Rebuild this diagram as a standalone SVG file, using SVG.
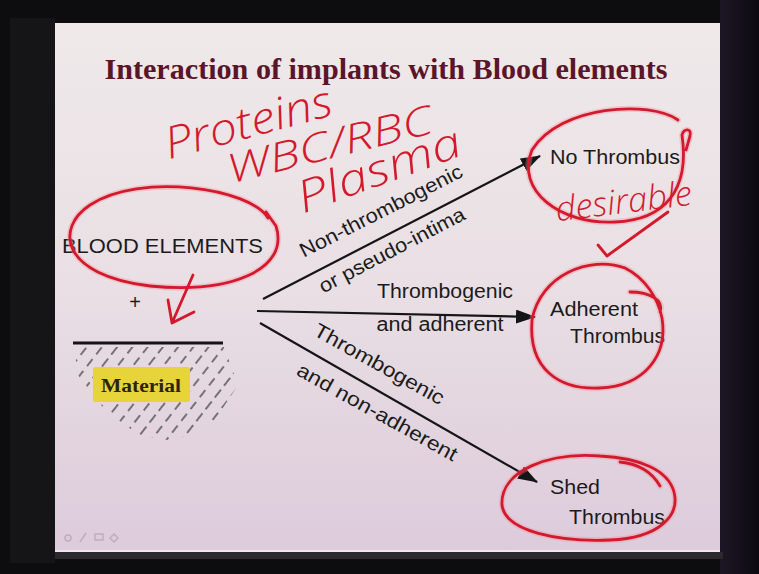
<svg xmlns="http://www.w3.org/2000/svg" width="759" height="574" viewBox="0 0 759 574">
<defs>
<linearGradient id="slideBg" x1="0" y1="0" x2="0" y2="1">
<stop offset="0" stop-color="#efe9ea"/>
<stop offset="0.5" stop-color="#e9dfe4"/>
<stop offset="1" stop-color="#ddcbdb"/>
</linearGradient>
<linearGradient id="frameR" x1="0" y1="0" x2="1" y2="0">
<stop offset="0" stop-color="#1e1626"/>
<stop offset="1" stop-color="#0c0a10"/>
</linearGradient>
<marker id="arrow" viewBox="0 0 20 14" refX="19" refY="7" markerWidth="20" markerHeight="14" markerUnits="userSpaceOnUse" orient="auto">
<path d="M0,0 L20,7 L0,14 Z" fill="#151515"/>
</marker>
<pattern id="hatch" patternUnits="userSpaceOnUse" width="36" height="15" patternTransform="rotate(38)">
<g stroke="#3a3a3a" stroke-width="1.3">
<line x1="6" y1="1" x2="6" y2="10"/>
<line x1="18" y1="6" x2="18" y2="15"/>
<line x1="18" y1="0" x2="18" y2="1"/>
<line x1="30" y1="11" x2="30" y2="15"/>
<line x1="30" y1="0" x2="30" y2="5"/>
</g>
</pattern>
<clipPath id="hatchClip">
<polygon points="74,347 224,347 238,385 215,420 175,441 140,436 105,410 78,375"/>
</clipPath>
<style>
.lbl{font-family:"Liberation Sans",Arial,sans-serif;font-size:20px;fill:#1b1b1b}
.conn{stroke:#151515;stroke-width:2.2;fill:none;marker-end:url(#arrow)}
.red{fill:none;stroke:#d3192b;stroke-width:2.8;stroke-linecap:round;stroke-linejoin:round}
.glow{fill:none;stroke:#f08a9a;stroke-width:6;stroke-opacity:0.35;stroke-linecap:round;stroke-linejoin:round}
.hand{font-family:"Open Sans","Liberation Sans",Arial,sans-serif;font-weight:300;font-style:italic;fill:#d3192b}
</style>
</defs>

<!-- frame and slide -->
<rect x="0" y="0" width="759" height="574" fill="#0d0c0e"/>
<rect x="720" y="0" width="39" height="574" fill="url(#frameR)"/>
<rect x="10" y="18" width="45" height="545" fill="#151416"/>
<rect x="55" y="552" width="668" height="7" fill="#2a2a2e"/>
<rect x="55" y="23" width="665" height="529" fill="url(#slideBg)"/>
<line x1="55" y1="551" x2="720" y2="551" stroke="#f4eef4" stroke-width="1.5"/>

<!-- title -->
<text id="title" x="386" y="79" text-anchor="middle" font-family="'Liberation Serif','Times New Roman',serif" font-weight="bold" font-size="30" fill="#5c1528" textLength="563" lengthAdjust="spacingAndGlyphs">Interaction of implants with Blood elements</text>

<!-- nodes -->
<g id="blood-elements">
<text class="lbl" x="62" y="253" font-size="22" textLength="201" lengthAdjust="spacingAndGlyphs">BLOOD ELEMENTS</text>
<text class="lbl" x="135" y="309" font-size="15" text-anchor="middle">+</text>
</g>

<g id="material">
<rect x="70" y="345" width="175" height="100" fill="url(#hatch)" clip-path="url(#hatchClip)"/>
<line x1="73" y1="343" x2="223" y2="343" stroke="#151515" stroke-width="3"/>
<rect x="93" y="367" width="97" height="35" fill="#e7d43b" rx="2"/>
<text x="141" y="392" text-anchor="middle" font-family="'Liberation Serif','Times New Roman',serif" font-weight="bold" font-size="19" fill="#2a2410" textLength="80" lengthAdjust="spacingAndGlyphs">Material</text>
</g>

<g id="no-thrombus">
<text class="lbl" x="550" y="164" textLength="130" lengthAdjust="spacingAndGlyphs">No Thrombus</text>
</g>

<g id="adherent-thrombus">
<text class="lbl" x="550" y="316" textLength="88" lengthAdjust="spacingAndGlyphs">Adherent</text>
<text class="lbl" x="570" y="343" textLength="95" lengthAdjust="spacingAndGlyphs">Thrombus</text>
</g>

<g id="shed-thrombus">
<text class="lbl" x="550" y="494" textLength="50" lengthAdjust="spacingAndGlyphs">Shed</text>
<text class="lbl" x="569" y="524" textLength="96" lengthAdjust="spacingAndGlyphs">Thrombus</text>
</g>

<!-- connectors -->
<g id="connectors">
<line class="conn" x1="263" y1="299" x2="540" y2="156"/>
<line class="conn" x1="257" y1="311" x2="535" y2="317"/>
<line class="conn" x1="260" y1="323" x2="537" y2="482"/>
<text class="lbl" transform="translate(384,217) rotate(-27)" text-anchor="middle" textLength="180" lengthAdjust="spacingAndGlyphs">Non-thrombogenic</text>
<text class="lbl" transform="translate(395,256) rotate(-27.5)" text-anchor="middle" textLength="162" lengthAdjust="spacingAndGlyphs">or pseudo-intima</text>
<text class="lbl" x="445" y="298" text-anchor="middle" textLength="136" lengthAdjust="spacingAndGlyphs">Thrombogenic</text>
<text class="lbl" x="440" y="331" text-anchor="middle" textLength="127" lengthAdjust="spacingAndGlyphs">and adherent</text>
<text class="lbl" transform="translate(376,370) rotate(29)" text-anchor="middle" textLength="146" lengthAdjust="spacingAndGlyphs">Thrombogenic</text>
<text class="lbl" transform="translate(374,418) rotate(29)" text-anchor="middle" textLength="180" lengthAdjust="spacingAndGlyphs">and non-adherent</text>
</g>

<!-- handwritten annotations -->
<g id="annotations">
<path class="glow" d="M268,218 C250,188 140,172 90,205 C55,228 60,275 150,286 C230,294 290,270 276,226 L266,212"/>
<path class="red" d="M268,218 C250,188 140,172 90,205 C55,228 60,275 150,286 C230,294 290,270 276,226 L266,212"/>
<path class="red" d="M193,275 L172,323 L194,312 M172,323 L168,300"/>
<path class="glow" d="M678,120 C650,100 560,105 532,150 C515,190 560,225 615,222 C665,220 690,190 682,135 C684,128 692,128 690,136 L686,150"/>
<path class="red" d="M678,120 C650,100 560,105 532,150 C515,190 560,225 615,222 C665,220 690,190 682,135 C684,128 692,128 690,136 L686,150"/>
<path class="red" d="M598,245 L607,256 L668,212"/>
<path class="glow" d="M625,268 C590,255 540,275 532,320 C528,370 560,390 600,388 C645,386 668,355 662,318 C658,298 645,278 625,268 M630,292 C650,292 664,300 660,312"/>
<path class="red" d="M625,268 C590,255 540,275 532,320 C528,370 560,390 600,388 C645,386 668,355 662,318 C658,298 645,278 625,268 M630,292 C650,292 664,300 660,312"/>
<path class="glow" d="M600,456 C550,452 500,470 502,505 C505,532 560,542 610,540 C660,538 680,515 674,492 C668,470 640,458 600,456 M620,462 C640,464 652,472 660,486"/>
<path class="red" d="M600,456 C550,452 500,470 502,505 C505,532 560,542 610,540 C660,538 680,515 674,492 C668,470 640,458 600,456 M620,462 C640,464 652,472 660,486"/>
<text class="hand" transform="translate(252,137) rotate(-15)" text-anchor="middle" font-size="44" textLength="172" lengthAdjust="spacingAndGlyphs">Proteins</text>
<text class="hand" transform="translate(333,158) rotate(-14)" text-anchor="middle" font-size="40" textLength="210" lengthAdjust="spacingAndGlyphs">WBC/RBC</text>
<text class="hand" transform="translate(384,184) rotate(-20)" text-anchor="middle" font-size="44" textLength="172" lengthAdjust="spacingAndGlyphs">Plasma</text>
<text class="hand" transform="translate(625,213) rotate(-7)" text-anchor="middle" font-size="34" textLength="137" lengthAdjust="spacingAndGlyphs">desirable</text>
</g>

<!-- slide nav icons -->
<g id="nav-icons" fill="none" stroke="#b8a6b8" stroke-width="1.5" opacity="0.8">
<circle cx="68" cy="538" r="3"/>
<line x1="80" y1="542" x2="86" y2="533"/>
<rect x="95" y="534" width="8" height="6"/>
<path d="M110,538 L114,534 L118,538 L114,542 Z"/>
</g>
</svg>
